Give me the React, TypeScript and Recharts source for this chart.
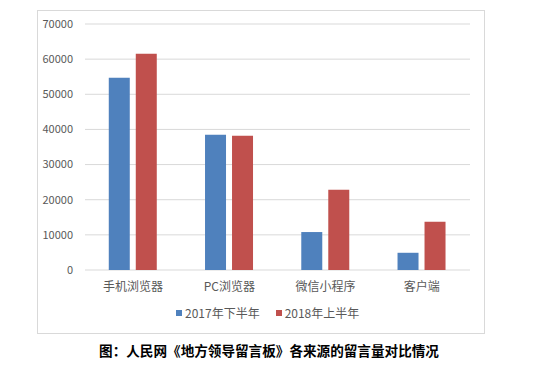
import React from 'react';
import { BarChart, Bar, XAxis, YAxis, CartesianGrid } from 'recharts';

const categories = ['手机浏览器', 'PC浏览器', '微信小程序', '客户端'];
const h2017 = [54700, 38500, 10800, 4900];
const h2018 = [61500, 38200, 22800, 13700];
const yTicks = [0, 10000, 20000, 30000, 40000, 50000, 60000, 70000];
const seriesNames = ['2017年下半年', '2018年上半年'];
const seriesColors = ['#4f81bd', '#c0504d'];

const data = categories.map((name, i) => ({ name, h2017: h2017[i], h2018: h2018[i] }));

const font = '"Noto Sans CJK SC", "Noto Sans", sans-serif';

const App = () => {
  return (
    <div style={{ position: 'absolute', left: 0, top: 0, width: 538, height: 366, background: '#fff' }}>
      {/* chart frame */}
      <div
        style={{
          position: 'absolute',
          left: 37,
          top: 10,
          width: 446,
          height: 322,
          border: '1px solid #d9d9d9',
        }}
      />
      <div style={{ position: 'absolute', left: 0, top: 0 }}>
        <BarChart
          width={538}
          height={366}
          data={data}
          margin={{ top: 24, right: 68, left: 0, bottom: 66 }}
          barCategoryGap="24.7%"
          barGap={6}
        >
          <CartesianGrid vertical={false} stroke="#d9d9d9" />
          <XAxis
            dataKey="name"
            axisLine={false}
            tickLine={false}
            tickMargin={6}
            tick={{ fontSize: 12, fill: '#595959', fontFamily: font }}
          />
          <YAxis
            width={85}
            domain={[0, 70000]}
            ticks={yTicks}
            axisLine={false}
            tickLine={false}
            tickMargin={6}
            tick={{ fontSize: 11, fill: '#595959', fontFamily: font }}
          />
          <Bar dataKey="h2017" name={seriesNames[0]} fill={seriesColors[0]} isAnimationActive={false} />
          <Bar dataKey="h2018" name={seriesNames[1]} fill={seriesColors[1]} isAnimationActive={false} />
        </BarChart>
      </div>
      {/* legend */}
      <div
        style={{
          position: 'absolute',
          left: 176,
          top: 304,
          display: 'flex',
          alignItems: 'center',
          fontFamily: font,
          fontSize: 12,
          color: '#595959',
          lineHeight: '18px',
        }}
      >
        {seriesNames.map((n, i) => (
          <div key={n} style={{ display: 'flex', alignItems: 'center', marginRight: i === 0 ? 16 : 0 }}>
            <span style={{ width: 6, height: 6, background: seriesColors[i], marginRight: 3, display: 'inline-block' }} />
            <span>{n}</span>
          </div>
        ))}
      </div>
      <div
        style={{
          position: 'absolute',
          left: 0,
          top: 340,
          width: 538,
          textAlign: 'center',
          fontFamily: font,
          fontWeight: 'bold',
          fontSize: 13.6,
          color: '#000',
          lineHeight: '20px',
        }}
      >
        图：人民网《地方领导留言板》各来源的留言量对比情况
      </div>
    </div>
  );
};

export default App;
